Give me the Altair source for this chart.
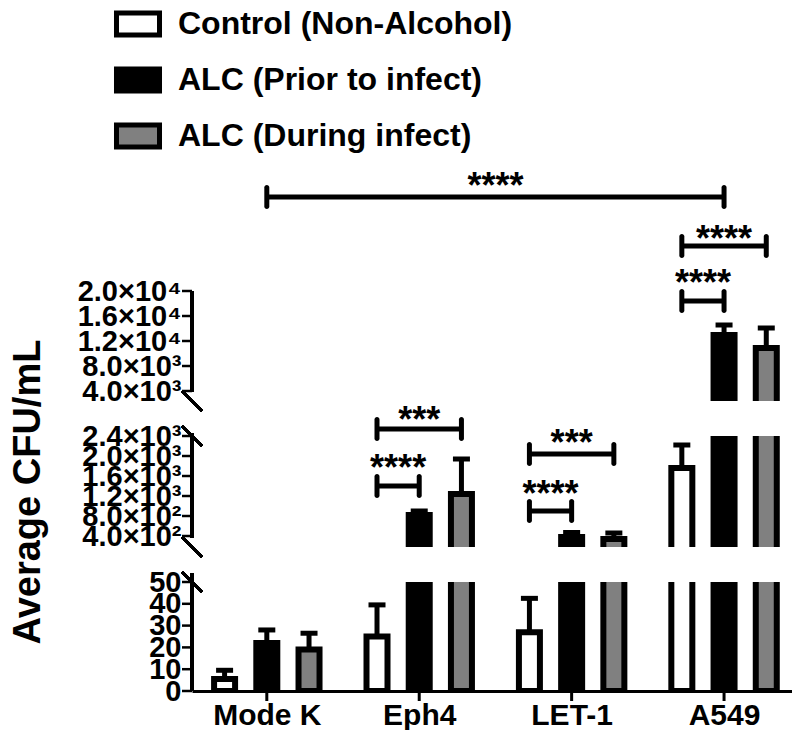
import json
import altair as alt
import pandas as pd

# ---------------- data ----------------
cell_lines = ["Mode K", "Eph4", "LET-1", "A549"]
series_names = ["Control (Non-Alcohol)", "ALC (Prior to infect)", "ALC (During infect)"]
series_colors = ["#ffffff", "#000000", "#808080"]

control_mean = [5.5, 25, 27, 1760]
control_sd = [4, 14.5, 15.5, 460]
prior_mean = [22, 820, 380, 12960]
prior_sd = [6, 80, 90, 1600]
during_mean = [19, 1240, 340, 10880]
during_sd = [7.5, 700, 120, 3200]

# broken y axis segments
upper_domain = [2400, 20000]
upper_ticks = [4000, 8000, 12000, 16000, 20000]
upper_labels = ["4.0×10³", "8.0×10³", "1.2×10⁴", "1.6×10⁴", "2.0×10⁴"]
middle_domain = [180, 2400]
middle_ticks = [400, 800, 1200, 1600, 2000, 2400]
middle_labels = ["4.0×10²", "8.0×10²", "1.2×10³", "1.6×10³", "2.0×10³", "2.4×10³"]
lower_domain = [0, 50]
lower_ticks = [0, 10, 20, 30, 40, 50]
lower_labels = ["0", "10", "20", "30", "40", "50"]

# significance brackets (series index: 0 control, 1 prior, 2 during)
br_from_line = ["Mode K", "A549", "A549", "Eph4", "Eph4", "LET-1", "LET-1"]
br_from_series = [1, 0, 0, 0, 0, 0, 0]
br_to_line = ["A549", "A549", "A549", "Eph4", "Eph4", "LET-1", "LET-1"]
br_to_series = [1, 2, 1, 2, 1, 2, 1]
br_y = [35040, 27200, 18400, 2540, 1400, 2040, 900]
br_text_y = [37280, 28800, 21760, 2780, 1820, 2320, 1300]
br_text = ["****", "****", "****", "***", "****", "***", "****"]
br_panel = ["upper", "upper", "upper", "middle", "middle", "middle", "middle"]

# ---------------- layout ----------------
FONT = "Liberation Sans"
OFF = [-0.277, 0.0, 0.277]
X_DOMAIN = [-0.458, 3.413]
W = 600

means = [control_mean, prior_mean, during_mean]
sds = [control_sd, prior_sd, during_sd]
rows = []
for si, s in enumerate(series_names):
    for ci, c in enumerate(cell_lines):
        rows.append({"line": c, "series": s, "x": ci + OFF[si],
                     "mean": means[si][ci], "top": means[si][ci] + sds[si][ci]})
bars_df = pd.DataFrame(rows)

brows = []
for i in range(len(br_y)):
    x1 = cell_lines.index(br_from_line[i]) + OFF[br_from_series[i]]
    x2 = cell_lines.index(br_to_line[i]) + OFF[br_to_series[i]]
    brows.append({"x1": x1, "x2": x2, "xm": (x1 + x2) / 2, "y": br_y[i],
                  "ty": br_text_y[i], "text": br_text[i], "panel": br_panel[i]})
br_df = pd.DataFrame(brows)
ends_df = pd.concat([br_df[["x1", "y", "panel"]].rename(columns={"x1": "xe"}),
                     br_df[["x2", "y", "panel"]].rename(columns={"x2": "xe"})])


def label_expr(labels, ticks):
    return f"{json.dumps(labels, ensure_ascii=False)}[indexof({json.dumps(ticks)}, datum.value)]"


def panel(name, domain, ticks, labels, height, show_x, y_title, legend, deco):
    xs = alt.Scale(domain=X_DOMAIN, nice=False, zero=False)
    ys = alt.Scale(domain=domain, nice=False, zero=False)
    if show_x:
        x_axis = alt.Axis(values=[0, 1, 2, 3],
                          labelExpr="['Mode K','Eph4','LET-1','A549'][datum.value]",
                          grid=False, domain=True, domainColor="black", domainWidth=3,
                          ticks=False,
                          labelFontSize=30, labelFontWeight="bold", labelColor="black",
                          labelPadding=9, labelFont=FONT, labelFlush=False, labelOverlap=False)
    else:
        x_axis = None
    ax_kwargs = dict(values=ticks, labelExpr=label_expr(labels, ticks), grid=False,
                     domain=False, ticks=False,
                     labelFontSize=29, labelFontWeight="bold", labelColor="black",
                     labelFont=FONT, labelPadding=11, labelOverlap=False, labelFlush=False)
    if y_title:
        ax_kwargs.update(titleFontSize=38, titleFontWeight="bold", titleFont=FONT,
                         titleColor="black", titleAngle=270, titleX=-153,
                         titleY=height / 2, titleBaseline="alphabetic", titleAlign="center")
    y_axis = alt.Axis(**ax_kwargs)
    ttl = y_title if y_title else None

    def X(field):
        return alt.X(field, type="quantitative", scale=xs, axis=x_axis, title=None)

    def Y(field):
        return alt.Y(field, type="quantitative", scale=ys, axis=y_axis, title=ttl)

    fill_kwargs = dict(scale=alt.Scale(domain=series_names, range=series_colors),
                       sort=series_names, legend=legend)
    bars = alt.Chart(bars_df).mark_bar(size=21, stroke="black", strokeWidth=6, clip=True).encode(
        x=X("x"), y=Y("mean"), y2=alt.datum(0),
        fill=alt.Fill("series:N", **fill_kwargs),
    )
    errs = alt.Chart(bars_df).mark_rule(strokeWidth=5, color="black", clip=True).encode(
        x=X("x"), y=Y("mean"), y2="top:Q")
    caps = alt.Chart(bars_df).transform_filter(
        f"datum.top >= {domain[0]} && datum.top <= {domain[1]}"
    ).mark_tick(orient="horizontal", size=17, thickness=5, color="black", opacity=1,
                clip=True).encode(x=X("x"), y=Y("top"))
    layers = [bars, errs, caps]

    # y tick marks at the tick values
    layers.append(alt.Chart(pd.DataFrame({"t": ticks})).mark_rule(
        strokeWidth=2.5, color="black").encode(
        y=Y("t"), x=alt.value(-10), x2=alt.value(0)))
    if show_x:
        layers.append(alt.Chart(pd.DataFrame({"c": [0, 1, 2, 3]})).mark_rule(
            strokeWidth=3, color="black").encode(
            x=X("c"), y=alt.value(height), y2=alt.value(height + 10)))

    # axis line and break marks (decoration)
    for (a, b) in deco["axis"]:
        layers.append(alt.Chart(bars_df).mark_rule(strokeWidth=3, color="black").encode(
            x=alt.value(0), y=alt.value(a), y2=alt.value(b)))
    for c in deco["breaks"]:
        layers.append(alt.Chart(bars_df).mark_rule(strokeWidth=2.5, color="black").encode(
            x=alt.value(-10), x2=alt.value(10), y=alt.value(c - 10), y2=alt.value(c + 10)))

    bsub = br_df[br_df["panel"] == name]
    esub = ends_df[ends_df["panel"] == name]
    if len(bsub):
        layers.append(alt.Chart(bsub).mark_rule(strokeWidth=5, color="black").encode(
            x=X("x1"), x2="x2:Q", y=Y("y")))
        layers.append(alt.Chart(esub).mark_tick(orient="vertical", size=24, thickness=5,
                                                cornerRadius=2.5, color="black", opacity=1).encode(
            x=X("xe"), y=Y("y")))
        layers.append(alt.Chart(bsub).mark_text(font=FONT, fontSize=36, fontWeight="bold",
                                                color="black", baseline="alphabetic", dy=15).encode(
            x=X("xm"), y=Y("ty"), text="text:N"))
    return alt.layer(*layers).properties(width=W, height=height)


legend = alt.Legend(orient="none", legendX=-70, legendY=-283, title=None,
                    symbolType="M-1.955,-1H1.955V1H-1.955Z", symbolSize=484,
                    symbolStrokeWidth=5, symbolStrokeColor="black", symbolOpacity=1,
                    labelFontSize=32, labelFont=FONT, labelFontWeight="bold",
                    labelColor="black", labelOffset=24, rowPadding=14, padding=0,
                    direction="vertical", labelLimit=600)

upper = panel("upper", upper_domain, upper_ticks, upper_labels, 110, False, None, legend,
              {"axis": [(0, 101)], "breaks": [110]})
middle = panel("middle", middle_domain, middle_ticks, middle_labels, 111, False,
               "Average CFU/mL", None, {"axis": [(-3, 102)], "breaks": [0, 111]})
lower = panel("lower", lower_domain, lower_ticks, lower_labels, 109, True, None, None,
              {"axis": [(-9, 109)], "breaks": [0]})

chart = alt.vconcat(upper, middle, lower, spacing=35, bounds="flush").resolve_scale(
    x="independent", y="independent", fill="independent"
).resolve_legend(fill="independent").properties(
    padding={"left": 0, "top": 0, "right": 0, "bottom": 0}
).configure(font=FONT).configure_view(stroke=None)

chart.save("out.html", embed_options={"renderer": "svg", "actions": False})
